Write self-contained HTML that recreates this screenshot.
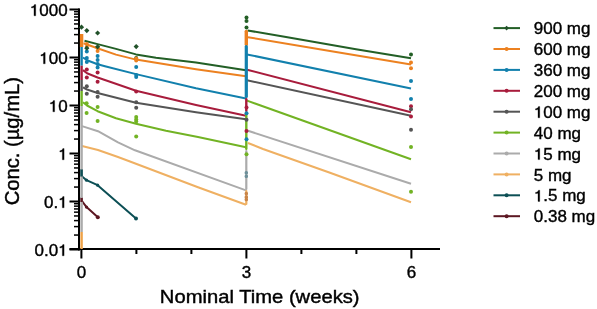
<!DOCTYPE html>
<html><head><meta charset="utf-8"><style>
html,body{margin:0;padding:0;background:#fff;}
body{width:597px;height:309px;overflow:hidden;}
svg{display:block;filter:blur(0.3px);}
g.txt{filter:grayscale(1);}
.t16{font-family:"Liberation Sans",sans-serif;font-size:17px;fill:#000;stroke:#000;stroke-width:0.4px;}
.hid{fill:none;stroke:none;}
.one{fill:#000;stroke:#000;stroke-width:0.3px;}
.t20{font-family:"Liberation Sans",sans-serif;font-size:20.2px;fill:#000;stroke:#000;stroke-width:0.45px;}
</style></head><body>
<svg width="597" height="309" viewBox="0 0 597 309">
<rect x="78" y="8.5" width="2" height="242" fill="#000"/>
<rect x="69.5" y="248" width="370.5" height="2" fill="#000"/>
<rect x="69.5" y="248.50" width="10" height="2" fill="#000"/>
<rect x="74" y="234.30" width="5" height="1.5" fill="#000"/>
<rect x="74" y="225.85" width="5" height="1.5" fill="#000"/>
<rect x="74" y="219.85" width="5" height="1.5" fill="#000"/>
<rect x="74" y="215.20" width="5" height="1.5" fill="#000"/>
<rect x="74" y="211.40" width="5" height="1.5" fill="#000"/>
<rect x="74" y="208.19" width="5" height="1.5" fill="#000"/>
<rect x="74" y="205.40" width="5" height="1.5" fill="#000"/>
<rect x="74" y="202.95" width="5" height="1.5" fill="#000"/>
<rect x="69.5" y="200.50" width="10" height="2" fill="#000"/>
<rect x="74" y="186.30" width="5" height="1.5" fill="#000"/>
<rect x="74" y="177.85" width="5" height="1.5" fill="#000"/>
<rect x="74" y="171.85" width="5" height="1.5" fill="#000"/>
<rect x="74" y="167.20" width="5" height="1.5" fill="#000"/>
<rect x="74" y="163.40" width="5" height="1.5" fill="#000"/>
<rect x="74" y="160.19" width="5" height="1.5" fill="#000"/>
<rect x="74" y="157.40" width="5" height="1.5" fill="#000"/>
<rect x="74" y="154.95" width="5" height="1.5" fill="#000"/>
<rect x="69.5" y="152.50" width="10" height="2" fill="#000"/>
<rect x="74" y="138.30" width="5" height="1.5" fill="#000"/>
<rect x="74" y="129.85" width="5" height="1.5" fill="#000"/>
<rect x="74" y="123.85" width="5" height="1.5" fill="#000"/>
<rect x="74" y="119.20" width="5" height="1.5" fill="#000"/>
<rect x="74" y="115.40" width="5" height="1.5" fill="#000"/>
<rect x="74" y="112.19" width="5" height="1.5" fill="#000"/>
<rect x="74" y="109.40" width="5" height="1.5" fill="#000"/>
<rect x="74" y="106.95" width="5" height="1.5" fill="#000"/>
<rect x="69.5" y="104.50" width="10" height="2" fill="#000"/>
<rect x="74" y="90.30" width="5" height="1.5" fill="#000"/>
<rect x="74" y="81.85" width="5" height="1.5" fill="#000"/>
<rect x="74" y="75.85" width="5" height="1.5" fill="#000"/>
<rect x="74" y="71.20" width="5" height="1.5" fill="#000"/>
<rect x="74" y="67.40" width="5" height="1.5" fill="#000"/>
<rect x="74" y="64.19" width="5" height="1.5" fill="#000"/>
<rect x="74" y="61.40" width="5" height="1.5" fill="#000"/>
<rect x="74" y="58.95" width="5" height="1.5" fill="#000"/>
<rect x="69.5" y="56.50" width="10" height="2" fill="#000"/>
<rect x="74" y="42.30" width="5" height="1.5" fill="#000"/>
<rect x="74" y="33.85" width="5" height="1.5" fill="#000"/>
<rect x="74" y="27.85" width="5" height="1.5" fill="#000"/>
<rect x="74" y="23.20" width="5" height="1.5" fill="#000"/>
<rect x="74" y="19.40" width="5" height="1.5" fill="#000"/>
<rect x="74" y="16.19" width="5" height="1.5" fill="#000"/>
<rect x="74" y="13.40" width="5" height="1.5" fill="#000"/>
<rect x="74" y="10.95" width="5" height="1.5" fill="#000"/>
<rect x="69.5" y="8.50" width="10" height="2" fill="#000"/>
<rect x="80.40" y="249" width="2" height="9.5" fill="#000"/>
<rect x="135.40" y="249" width="2" height="5" fill="#000"/>
<rect x="190.40" y="249" width="2" height="5" fill="#000"/>
<rect x="245.40" y="249" width="2" height="9.5" fill="#000"/>
<rect x="300.40" y="249" width="2" height="5" fill="#000"/>
<rect x="355.40" y="249" width="2" height="5" fill="#000"/>
<rect x="410.40" y="249" width="2" height="9.5" fill="#000"/>
<polyline points="84.5,40.8 97.6,44.1 116,48.9 136,54.4 156,57.7 196,62.4 246,70.2" fill="none" stroke="#235f26" stroke-width="2" stroke-linejoin="round"/>
<polyline points="247.6,30.4 286,37.1 356,49.2 411,58.2" fill="none" stroke="#235f26" stroke-width="2" stroke-linejoin="round"/>
<polyline points="83.5,43.3 96,47.7 116,54.6 136,59.6 196,69.2 246,76.2" fill="none" stroke="#ec8120" stroke-width="2" stroke-linejoin="round"/>
<polyline points="248,37.2 330,51.1 411,64.6" fill="none" stroke="#ec8120" stroke-width="2" stroke-linejoin="round"/>
<polyline points="83,57.5 87,60.2 97.6,64.3 105,66.2 136,74.1 196,88.3 246,98.5" fill="none" stroke="#1280ad" stroke-width="2" stroke-linejoin="round"/>
<polyline points="247,54.4 411,88.5" fill="none" stroke="#1280ad" stroke-width="2" stroke-linejoin="round"/>
<polyline points="83,70.1 87,73.2 97.6,77.5 110,81.7 136,90.8 196,105 246,115.8" fill="none" stroke="#a81c3c" stroke-width="2" stroke-linejoin="round"/>
<polyline points="247,69.7 411,112.2" fill="none" stroke="#a81c3c" stroke-width="2" stroke-linejoin="round"/>
<polyline points="83,87.3 87,89.5 97.6,93 136,102.8 196,112.3 246,119.2" fill="none" stroke="#555555" stroke-width="2" stroke-linejoin="round"/>
<polyline points="247,80.2 411,115.8" fill="none" stroke="#555555" stroke-width="2" stroke-linejoin="round"/>
<polyline points="83,102.2 87,105.5 97.6,111.2 116,118.3 136,123.8 166,130.8 198,137 246,147.2" fill="none" stroke="#72b324" stroke-width="2" stroke-linejoin="round"/>
<polyline points="247,100.6 411,159.2" fill="none" stroke="#72b324" stroke-width="2" stroke-linejoin="round"/>
<polyline points="82,126.1 98,131.2 118,142.4 135,150.3 246,190.4" fill="none" stroke="#ababab" stroke-width="2" stroke-linejoin="round"/>
<polyline points="248,130.8 411,183.7" fill="none" stroke="#ababab" stroke-width="2" stroke-linejoin="round"/>
<polyline points="82,146 98,150 118,157 130,161.5 198,187.2 246,204.8" fill="none" stroke="#efb062" stroke-width="2" stroke-linejoin="round"/>
<polyline points="248,143 263,149 330,172.7 411,202.2" fill="none" stroke="#efb062" stroke-width="2" stroke-linejoin="round"/>
<polyline points="81.5,169 81.5,176 86.5,180.2 97.6,185.2 136,218.4" fill="none" stroke="#0c4f55" stroke-width="2" stroke-linejoin="round"/>
<polyline points="81.5,197 82,201 86.5,207.1 97.6,217.1" fill="none" stroke="#5c1722" stroke-width="2" stroke-linejoin="round"/>
<rect x="79.89999999999999" y="34" width="3.4" height="13" fill="#ec8120"/>
<rect x="80.39999999999999" y="47" width="2.4" height="18.700000000000003" fill="#1280ad"/>
<rect x="80.39999999999999" y="65.7" width="2.4" height="14.299999999999997" fill="#a81c3c"/>
<rect x="80.39999999999999" y="80" width="2.4" height="11" fill="#555555"/>
<rect x="80.39999999999999" y="91" width="2.4" height="15" fill="#72b324"/>
<rect x="80.39999999999999" y="106" width="2.4" height="126" fill="#ababab"/>
<rect x="80.39999999999999" y="232" width="2.4" height="17" fill="#eea248"/>
<rect x="80.39999999999999" y="169.5" width="2.4" height="7.0" fill="#0c4f55"/>
<rect x="80.39999999999999" y="198" width="2.4" height="4" fill="#5c1722"/>
<rect x="244.60000000000002" y="29.8" width="3.4" height="16.2" rx="1.5" fill="#ec8120"/>
<rect x="244.70000000000002" y="45" width="3.2" height="53" rx="1.5" fill="#1280ad"/>
<rect x="245.10000000000002" y="98" width="2.4" height="14" rx="1.2" fill="#a81c3c"/>
<rect x="245.10000000000002" y="112" width="2.4" height="38" rx="1.2" fill="#72b324"/>
<rect x="245.20000000000002" y="150" width="2.2" height="40" rx="1.1" fill="#ababab"/>
<rect x="245.20000000000002" y="190" width="2.2" height="15" rx="1.1" fill="#efb062"/>
<circle cx="246.5" cy="17.5" r="2" fill="#235f26"/>
<circle cx="246.5" cy="21" r="2" fill="#235f26"/>
<circle cx="246.5" cy="27.6" r="2" fill="#235f26"/>
<circle cx="411" cy="54.6" r="2" fill="#235f26"/>
<circle cx="136.2" cy="58" r="2" fill="#235f26"/>
<circle cx="86.8" cy="44" r="2" fill="#ec8120"/>
<circle cx="86.8" cy="47" r="2" fill="#ec8120"/>
<circle cx="97.6" cy="48" r="2" fill="#ec8120"/>
<circle cx="97.6" cy="51" r="2" fill="#ec8120"/>
<circle cx="136.2" cy="58.5" r="2" fill="#ec8120"/>
<circle cx="136.2" cy="60.5" r="2" fill="#ec8120"/>
<circle cx="411" cy="62.6" r="2" fill="#ec8120"/>
<circle cx="411" cy="68.2" r="2" fill="#ec8120"/>
<circle cx="86.8" cy="51.5" r="2" fill="#1280ad"/>
<circle cx="86.8" cy="58" r="2" fill="#1280ad"/>
<circle cx="86.8" cy="62" r="2" fill="#1280ad"/>
<circle cx="97.6" cy="55.9" r="2" fill="#1280ad"/>
<circle cx="97.6" cy="60" r="2" fill="#1280ad"/>
<circle cx="97.6" cy="64" r="2" fill="#1280ad"/>
<circle cx="97.6" cy="67.4" r="2" fill="#1280ad"/>
<circle cx="136.2" cy="67" r="2" fill="#1280ad"/>
<circle cx="136.2" cy="75" r="2" fill="#1280ad"/>
<circle cx="136.2" cy="77" r="2" fill="#1280ad"/>
<circle cx="246.5" cy="113.2" r="2" fill="#1280ad"/>
<circle cx="246.5" cy="139.3" r="2" fill="#1280ad"/>
<circle cx="411" cy="81" r="2" fill="#1280ad"/>
<circle cx="411" cy="99.1" r="2" fill="#1280ad"/>
<circle cx="86.8" cy="69.5" r="2" fill="#a81c3c"/>
<circle cx="86.8" cy="77.6" r="2" fill="#a81c3c"/>
<circle cx="97.6" cy="72.5" r="2" fill="#a81c3c"/>
<circle cx="97.6" cy="81.7" r="2" fill="#a81c3c"/>
<circle cx="136.2" cy="91.5" r="2" fill="#a81c3c"/>
<circle cx="246.5" cy="107.5" r="2" fill="#a81c3c"/>
<circle cx="246.5" cy="131.1" r="2" fill="#a81c3c"/>
<circle cx="411" cy="106.2" r="2" fill="#a81c3c"/>
<circle cx="411" cy="116.6" r="2" fill="#a81c3c"/>
<circle cx="86.8" cy="86.2" r="2" fill="#555555"/>
<circle cx="86.8" cy="93.7" r="2" fill="#555555"/>
<circle cx="97.6" cy="92" r="2" fill="#555555"/>
<circle cx="97.6" cy="96.8" r="2" fill="#555555"/>
<circle cx="136.2" cy="102.2" r="2" fill="#555555"/>
<circle cx="136.2" cy="107.7" r="2" fill="#555555"/>
<circle cx="246.5" cy="119.8" r="2" fill="#555555"/>
<circle cx="411" cy="109.2" r="2" fill="#555555"/>
<circle cx="411" cy="129.7" r="2" fill="#555555"/>
<circle cx="86.6" cy="103.2" r="2" fill="#72b324"/>
<circle cx="86.6" cy="113" r="2" fill="#72b324"/>
<circle cx="97.6" cy="107" r="2" fill="#72b324"/>
<circle cx="97.6" cy="121" r="2" fill="#72b324"/>
<circle cx="136.2" cy="117" r="2" fill="#72b324"/>
<circle cx="136.2" cy="119.5" r="2" fill="#72b324"/>
<circle cx="136.2" cy="121.5" r="2" fill="#72b324"/>
<circle cx="136.2" cy="136.4" r="2" fill="#72b324"/>
<circle cx="246.5" cy="154.2" r="2" fill="#72b324"/>
<circle cx="411" cy="147.1" r="2" fill="#72b324"/>
<circle cx="411" cy="191.8" r="2" fill="#72b324"/>
<path d="M81.5 24.599999999999998L84.1 27.2L81.5 29.8L78.9 27.2Z" fill="#22522a"/>
<path d="M86.8 28.0L89.39999999999999 30.6L86.8 33.2L84.2 30.6Z" fill="#22522a"/>
<path d="M97.6 30.4L100.19999999999999 33L97.6 35.6L95.0 33Z" fill="#22522a"/>
<path d="M136.2 44.0L138.79999999999998 46.6L136.2 49.2L133.6 46.6Z" fill="#22522a"/>
<path d="M86.8 45.6L89.39999999999999 48.2L86.8 50.800000000000004L84.2 48.2Z" fill="#22522a"/>
<path d="M97.6 44.199999999999996L100.19999999999999 46.8L97.6 49.4L95.0 46.8Z" fill="#22522a"/>
<rect x="244.6" y="171.0" width="3.4" height="3.6" rx="1.5" fill="#6d8f99"/>
<rect x="244.6" y="174.39999999999998" width="3.4" height="3.6" rx="1.5" fill="#6d8f99"/>
<rect x="244.6" y="191.7" width="3.4" height="3.6" rx="1.5" fill="#c98548"/>
<rect x="244.6" y="195.2" width="3.4" height="3.6" rx="1.5" fill="#c98548"/>
<rect x="244.6" y="197.7" width="3.4" height="3.6" rx="1.5" fill="#c98548"/>
<circle cx="136" cy="218.4" r="2" fill="#0c4f55"/>
<circle cx="86.5" cy="180.2" r="1.6" fill="#0c4f55"/>
<circle cx="97.6" cy="185.2" r="1.6" fill="#0c4f55"/>
<circle cx="97.8" cy="217.2" r="2" fill="#5c1722"/>
<circle cx="86.5" cy="207.1" r="1.6" fill="#5c1722"/>
<rect x="493.5" y="27.10" width="26.5" height="2" fill="#235f26"/>
<path d="M506.6 25.80L508.9 28.10L506.6 30.40L504.3 28.10Z" fill="#22522a"/>
<rect x="493.5" y="48.00" width="26.5" height="2" fill="#ec8120"/>
<circle cx="506.6" cy="49.00" r="2" fill="#ec8120"/>
<rect x="493.5" y="68.90" width="26.5" height="2" fill="#1280ad"/>
<circle cx="506.6" cy="69.90" r="2" fill="#1280ad"/>
<rect x="493.5" y="89.80" width="26.5" height="2" fill="#a81c3c"/>
<circle cx="506.6" cy="90.80" r="2" fill="#a81c3c"/>
<rect x="493.5" y="110.70" width="26.5" height="2" fill="#555555"/>
<circle cx="506.6" cy="111.70" r="2" fill="#555555"/>
<rect x="493.5" y="131.60" width="26.5" height="2" fill="#72b324"/>
<circle cx="506.6" cy="132.60" r="2" fill="#72b324"/>
<rect x="493.5" y="152.50" width="26.5" height="2" fill="#ababab"/>
<circle cx="506.6" cy="153.50" r="2" fill="#ababab"/>
<rect x="493.5" y="173.40" width="26.5" height="2" fill="#efb062"/>
<circle cx="506.6" cy="174.40" r="2" fill="#efb062"/>
<rect x="493.5" y="194.30" width="26.5" height="2" fill="#0c4f55"/>
<circle cx="506.6" cy="195.30" r="2" fill="#0c4f55"/>
<rect x="493.5" y="215.20" width="26.5" height="2" fill="#5c1722"/>
<circle cx="506.6" cy="216.20" r="2" fill="#5c1722"/>
<g class="txt">
<g transform="translate(533.80,34.20)  scale(1,0.93)"><text class="t16">900 mg</text></g>
<g transform="translate(533.80,55.10)  scale(1,0.93)"><text class="t16">600 mg</text></g>
<g transform="translate(533.80,76.00)  scale(1,0.93)"><text class="t16">360 mg</text></g>
<g transform="translate(533.80,96.90)  scale(1,0.93)"><text class="t16">200 mg</text></g>
<g transform="translate(533.80,117.80)  scale(1,0.93)"><text class="t16"><tspan class="hid">1</tspan>00 mg</text><path class="one" d="M5.95,0 L5.95,-12.05 L4.67,-12.05 C4.25,-10.54 3.18,-9.77 1.70,-9.69 L1.70,-8.41 C2.89,-8.41 3.69,-8.50 4.20,-8.84 L4.20,0 Z"/></g>
<g transform="translate(533.80,138.70)  scale(1,0.93)"><text class="t16">40 mg</text></g>
<g transform="translate(533.80,159.60)  scale(1,0.93)"><text class="t16"><tspan class="hid">1</tspan>5 mg</text><path class="one" d="M5.95,0 L5.95,-12.05 L4.67,-12.05 C4.25,-10.54 3.18,-9.77 1.70,-9.69 L1.70,-8.41 C2.89,-8.41 3.69,-8.50 4.20,-8.84 L4.20,0 Z"/></g>
<g transform="translate(533.80,180.50)  scale(1,0.93)"><text class="t16">5 mg</text></g>
<g transform="translate(533.80,201.40)  scale(1,0.93)"><text class="t16"><tspan class="hid">1</tspan>.5 mg</text><path class="one" d="M5.95,0 L5.95,-12.05 L4.67,-12.05 C4.25,-10.54 3.18,-9.77 1.70,-9.69 L1.70,-8.41 C2.89,-8.41 3.69,-8.50 4.20,-8.84 L4.20,0 Z"/></g>
<g transform="translate(533.80,222.30)  scale(1,0.93)"><text class="t16">0.38 mg</text></g>
<g transform="translate(29.78,15.80)  scale(1,0.93)"><text class="t16"><tspan class="hid">1</tspan>000</text><path class="one" d="M5.95,0 L5.95,-12.05 L4.67,-12.05 C4.25,-10.54 3.18,-9.77 1.70,-9.69 L1.70,-8.41 C2.89,-8.41 3.69,-8.50 4.20,-8.84 L4.20,0 Z"/></g>
<g transform="translate(39.24,63.80)  scale(1,0.93)"><text class="t16"><tspan class="hid">1</tspan>00</text><path class="one" d="M5.95,0 L5.95,-12.05 L4.67,-12.05 C4.25,-10.54 3.18,-9.77 1.70,-9.69 L1.70,-8.41 C2.89,-8.41 3.69,-8.50 4.20,-8.84 L4.20,0 Z"/></g>
<g transform="translate(48.69,111.80)  scale(1,0.93)"><text class="t16"><tspan class="hid">1</tspan>0</text><path class="one" d="M5.95,0 L5.95,-12.05 L4.67,-12.05 C4.25,-10.54 3.18,-9.77 1.70,-9.69 L1.70,-8.41 C2.89,-8.41 3.69,-8.50 4.20,-8.84 L4.20,0 Z"/></g>
<g transform="translate(58.15,159.80)  scale(1,0.93)"><text class="t16"><tspan class="hid">1</tspan></text><path class="one" d="M5.95,0 L5.95,-12.05 L4.67,-12.05 C4.25,-10.54 3.18,-9.77 1.70,-9.69 L1.70,-8.41 C2.89,-8.41 3.69,-8.50 4.20,-8.84 L4.20,0 Z"/></g>
<g transform="translate(43.97,207.80)  scale(1,0.93)"><text class="t16">0.<tspan class="hid">1</tspan></text><path class="one" d="M20.13,0 L20.13,-12.05 L18.85,-12.05 C18.43,-10.54 17.36,-9.77 15.88,-9.69 L15.88,-8.41 C17.07,-8.41 17.87,-8.50 18.38,-8.84 L18.38,0 Z"/></g>
<g transform="translate(34.51,255.80)  scale(1,0.93)"><text class="t16">0.0<tspan class="hid">1</tspan></text><path class="one" d="M29.58,0 L29.58,-12.05 L28.31,-12.05 C27.88,-10.54 26.81,-9.77 25.33,-9.69 L25.33,-8.41 C26.52,-8.41 27.32,-8.50 27.83,-8.84 L27.83,0 Z"/></g>
<g transform="translate(76.67,277.50)  scale(1,0.93)"><text class="t16">0</text></g>
<g transform="translate(241.67,277.50)  scale(1,0.93)"><text class="t16">3</text></g>
<g transform="translate(406.67,277.50)  scale(1,0.93)"><text class="t16">6</text></g>
<g transform="translate(159.84,303.20)  scale(1,0.93)"><text class="t20">Nominal Time (weeks)</text></g>
<g transform="translate(19.2,141.2) rotate(-90) scale(1,0.965)"><text x="0" y="0" class="t20" text-anchor="middle">Conc. (µg/mL)</text></g>
</g>
</svg>
</body></html>
